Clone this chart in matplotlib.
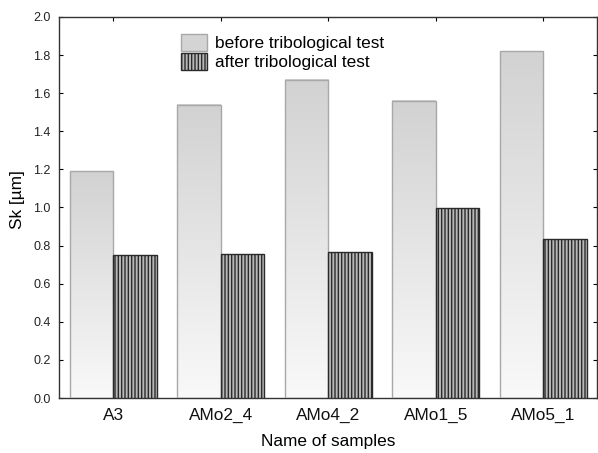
import numpy as np
import matplotlib
matplotlib.use("Agg")
import matplotlib.pyplot as plt
from matplotlib.patches import Patch

plt.rcParams['font.family'] = ['Liberation Sans', 'DejaVu Sans']
plt.rcParams['hatch.linewidth'] = 1.0

samples = ["A3", "AMo2_4", "AMo4_2", "AMo1_5", "AMo5_1"]
sk_before = [1.19, 1.54, 1.67, 1.56, 1.82]
sk_after = [0.75, 0.755, 0.765, 0.995, 0.835]
y_ticks = [0.0, 0.2, 0.4, 0.6, 0.8, 1.0, 1.2, 1.4, 1.6, 1.8, 2.0]

fig = plt.figure(figsize=(5.98, 4.53), dpi=100)
ax = fig.add_axes([0.0987, 0.1214, 0.9003, 0.8411])

x = np.arange(len(samples))
w = 0.405

# before: light gray bars with a vertical gradient fill
gradient = np.linspace(0, 1, 256).reshape(-1, 1)
cmap = matplotlib.colors.LinearSegmentedColormap.from_list("g", ["#f9f9f9", "#d2d2d2"])
bars_b = ax.bar(x - w / 2, sk_before, w, facecolor="none", edgecolor="#a8a8a8",
                linewidth=1.0, zorder=3)
for b in bars_b:
    x0, y0 = b.get_x(), b.get_y()
    ax.imshow(gradient, cmap=cmap, aspect="auto", origin="lower", zorder=2,
              extent=(x0, x0 + b.get_width(), y0, y0 + b.get_height()))

# after: vertical stripe hatch
ax.bar(x + w / 2, sk_after, w, facecolor="#b8b8b8", edgecolor="#2a2a2a",
       hatch="|||||", linewidth=1.0, zorder=3)

ax.set_xlim(-0.505, 4.505)
ax.set_ylim(0, 2.0)
ax.set_yticks(y_ticks)
ax.set_yticklabels([f"{v:.1f}" for v in y_ticks], fontsize=9, color="#222222")
ax.set_xticks(x)
ax.set_xticklabels(samples, fontsize=12.4, color="#111111")
ax.tick_params(axis="y", direction="in", length=3, right=True, width=0.8, pad=6)
ax.tick_params(axis="x", direction="in", length=3, top=True, width=0.8, pad=7)
for s in ax.spines.values():
    s.set_color("#333333")
    s.set_linewidth(1.0)

ax.set_ylabel("Sk [µm]", fontsize=12.4)
ax.yaxis.set_label_coords(-0.064, 0.52)
ax.set_xlabel("Name of samples", fontsize=12.4, labelpad=8)

handles = [
    Patch(facecolor="#d4d4d4", edgecolor="#a8a8a8", label="before tribological test"),
    Patch(facecolor="#b8b8b8", edgecolor="#2a2a2a", hatch="|||||", label="after tribological test"),
]
ax.legend(handles=handles, loc="upper left", bbox_to_anchor=(0.226, 0.955), frameon=False,
          fontsize=12.4, handlelength=1.55, handleheight=1.1, handletextpad=0.45,
          labelspacing=0.12, borderaxespad=0, borderpad=0)

fig.savefig("out.png", dpi=100)
